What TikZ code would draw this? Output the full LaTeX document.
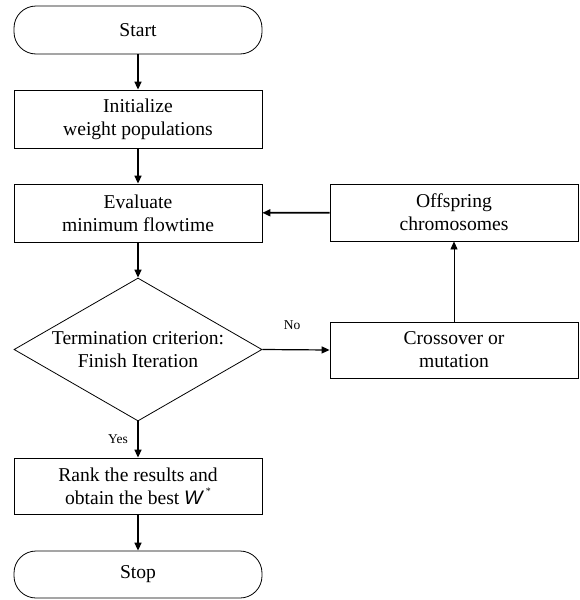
\documentclass[tikz,border=0pt]{standalone}
\usepackage{fontspec}
\setmainfont{Liberation Serif}
\newfontfamily\wfont{Liberation Sans}
\usetikzlibrary{shapes.geometric,arrows.meta}
\begin{document}
\begin{tikzpicture}[x=1pt,y=-1pt,
 box/.style={draw, line width=0.8pt, minimum width=248pt, minimum height=58pt, inner sep=0pt, align=center, font=\fontsize{19.6}{23}\selectfont},
 term/.style={box, minimum height=48pt, rounded corners=22pt},
 dec/.style={draw, diamond, line width=0.8pt, minimum width=248pt, minimum height=143pt, inner sep=0pt, shape aspect=1.73, align=center, font=\fontsize{19.6}{23}\selectfont},
 flow/.style={-{Triangle[width=7pt,length=8pt]}, line width=1.6pt},
 thinflow/.style={-{Triangle[width=7pt,length=8pt]}, line width=0.8pt},
 lbl/.style={font=\fontsize{13.5}{16}\selectfont}]
\useasboundingbox (0,0) rectangle (580,600);
\node[term] (start) at (138,30) {Start};
\node[box] (init) at (138,119) {Initialize\\weight populations};
\node[box] (eval) at (138,213) {Evaluate\\minimum flowtime};
\node[dec] (dec) at (138,349.5) {Termination criterion:\\Finish Iteration};
\node[box, minimum height=56pt] (rank) at (138,486) {Rank the results and\\obtain the best {\wfont\itshape W}\,\raisebox{1.1ex}{\fontsize{10}{10}\selectfont *}};
\node[term, minimum height=47pt] (stop) at (138,574.5) {Stop};
\node[box, minimum height=57pt] (off) at (454,212.5) {Offspring\\chromosomes};
\node[box, minimum height=56pt] (cross) at (454,350) {Crossover or\\mutation};
\draw[flow] (start) -- (init);
\draw[flow] (init) -- (eval);
\draw[flow] (eval) -- (dec);
\draw[flow] (dec.south) -- node[lbl, midway, left=6pt] {Yes} (rank);
\draw[flow] (rank) -- (stop);
\draw[flow, line width=1.2pt] (dec.east) -- node[lbl, midway, above=16pt, xshift=-4pt] {No} (cross.west);
\draw[thinflow] (cross) -- (off);
\draw[flow] (off) -- (eval);
\end{tikzpicture}
\end{document}
